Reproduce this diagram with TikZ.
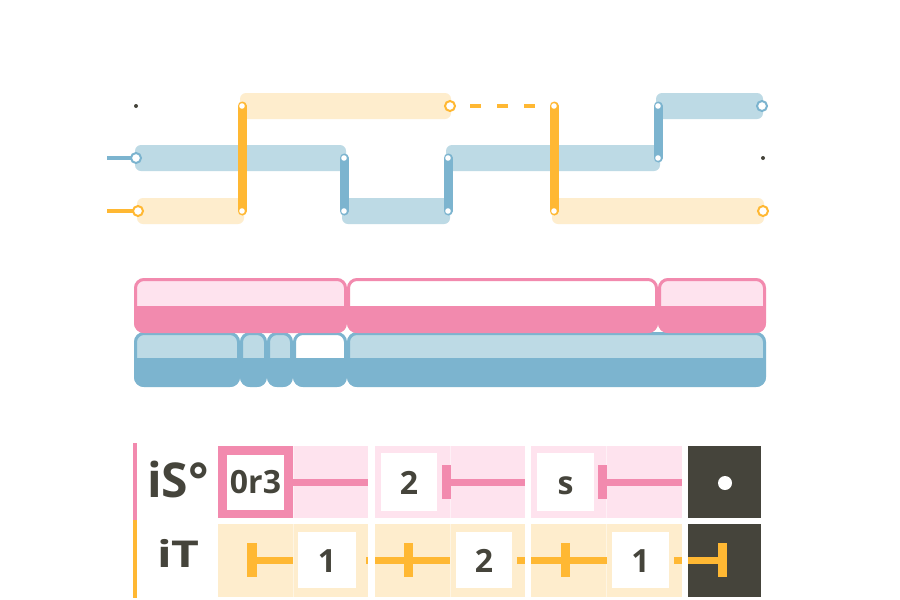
\documentclass[tikz,border=0pt]{standalone}
\usepackage{fontspec}
\setmainfont{Open Sans}
\definecolor{orng}{HTML}{FFB833}
\definecolor{lorng}{HTML}{FEEDCD}
\definecolor{blu}{HTML}{7CB4CF}
\definecolor{lblu}{HTML}{BDDAE5}
\definecolor{pnk}{HTML}{F28AAE}
\definecolor{lpnk}{HTML}{FEE3EE}
\definecolor{drk}{HTML}{45443B}
\newcommand{\rbseg}[7]{%
  \begin{scope}
    \clip[rounded corners=10] (#1,#2) rectangle (#3,#4);
    \fill[#6] (#1,#2) rectangle (#3,#5);
    \fill[#7] (#1,#5) rectangle (#3,#4);
  \end{scope}
  \draw[#7, line width=3, rounded corners=8.5] (#1+1.5,#2+1.5) rectangle (#3-1.5,#4-1.5);
}
\tikzset{
  band/.style={rounded corners=6},
  bar/.style={line width=9, line cap=round},
  wire/.style={line width=4.5},
  opencirc/.style={line width=2, fill=white},
  lab/.style={anchor=base, text=drk, font=\bfseries, inner sep=0},
  cell/.style={anchor=base, text=drk, font=\fontsize{32}{36}\selectfont\bfseries, inner sep=0},
  sep/.style={line width=0.8},
}
\begin{document}
\begin{tikzpicture}[x=1pt,y=-1pt]
\useasboundingbox (0,0) rectangle (900,600);
\fill[white] (0,0) rectangle (900,600);

% ---------- top section ----------
% bands
\fill[lorng, band] (137,198) rectangle (244,224);
\fill[lorng, band] (240,93) rectangle (451,119);
\fill[lorng, band] (552,198) rectangle (764,224);
\fill[lblu, band] (135,145) rectangle (346,171);
\fill[lblu, band] (342,198) rectangle (450,224);
\fill[lblu, band] (446,145) rectangle (660,171);
\fill[lblu, band] (656,93) rectangle (763,119);

% input wires
\coordinate (bin) at (107,158);
\coordinate (oin) at (107,211);
\coordinate (b0) at (136,158);
\coordinate (o0) at (138,211);
\draw[blu, wire] (bin) -- (b0);
\draw[orng, wire] (oin) -- (o0);

% dashed
\coordinate (d0) at (470,106);
\coordinate (d1) at (535,106);
\draw[orng, wire, dash pattern=on 11pt off 16pt] (d0) -- (d1);

% bars
\coordinate (oa1) at (242,106); \coordinate (oa2) at (242,211);
\coordinate (ob1) at (554,106); \coordinate (ob2) at (554,211);
\coordinate (ba1) at (344,158); \coordinate (ba2) at (344,211);
\coordinate (bb1) at (448,158); \coordinate (bb2) at (448,211);
\coordinate (bc1) at (658,106); \coordinate (bc2) at (658,158);
\draw[blu, bar] (ba1) -- (ba2);
\draw[blu, bar] (bb1) -- (bb2);
\draw[blu, bar] (bc1) -- (bc2);
\draw[orng, bar] (oa1) -- (oa2);
\draw[orng, bar] (ob1) -- (ob2);
\foreach \p in {oa1,oa2,ob1,ob2,ba1,ba2,bb1,bb2,bc1,bc2}
  \fill[white] (\p) circle (2.8);

% open circles
\draw[blu, opencirc] (b0) circle (5);
\draw[orng, opencirc] (o0) circle (5);
\draw[orng, opencirc] (450,106) circle (5);
\draw[blu, opencirc] (762,106) circle (5);
\draw[orng, opencirc] (763,211) circle (5);

% dots
\fill[drk] (136,106) circle (2);
\fill[drk] (763,158) circle (2);

% ---------- middle section ----------
\rbseg{134}{332}{240}{387}{358}{lblu}{blu}
\rbseg{240}{332}{267}{387}{358}{lblu}{blu}
\rbseg{267}{332}{293}{387}{358}{lblu}{blu}
\rbseg{293}{332}{347}{387}{358}{white}{blu}
\rbseg{347}{332}{766}{387}{358}{lblu}{blu}

\rbseg{134}{278}{347}{333}{306}{lpnk}{pnk}
\rbseg{347}{278}{658}{333}{306}{white}{pnk}
\rbseg{658}{278}{766}{333}{306}{lpnk}{pnk}

% ---------- bottom section ----------
\draw[pnk, line width=4] (135,443) -- (135,520);
\draw[orng, line width=4] (135,520) -- (135,598);
\node[lab, font=\fontsize{48}{50}\selectfont\bfseries] (lS) at (178,497) {iS°};
\node[lab, font=\fontsize{37}{40}\selectfont\bfseries, xscale=1.3] (lT) at (178.5,567) {iT};

% cells backgrounds
\foreach \a/\b in {218/368, 375/525, 531/682}{
  \fill[lpnk] (\a,446) rectangle (\b,518);
  \fill[lorng] (\a,524) rectangle (\b,597);
  \draw[sep, white!45!lpnk] ({(\a+\b)/2},446) -- ({(\a+\b)/2},518);
  \draw[sep, white!45!lorng] ({(\a+\b)/2},524) -- ({(\a+\b)/2},597);
}
\fill[drk] (688,446) rectangle (761,518);
\fill[drk] (688,524) rectangle (761,597);
\fill[white] (725,483) circle (7);

% pink row
\fill[pnk] (218,446) rectangle (293,518);
\fill[white] (227,455) rectangle (284,510);
\node[cell] (c1) at (255.5,493) {0r3};
\draw[pnk, line width=7] (293,482) -- (368,482);

\fill[white] (381,453) rectangle (437,511);
\node[cell] (c2) at (409,494) {2};
\fill[pnk] (442,465) rectangle (451,499);
\draw[pnk, line width=7] (451,482) -- (525,482);

\fill[white] (537,453) rectangle (594,511);
\node[cell] (c3) at (565.5,494) {s};
\fill[pnk] (598,465) rectangle (607,499);
\draw[pnk, line width=7] (607,482) -- (682,482);

% orange row
\fill[orng] (247,543) rectangle (257,577);
\draw[orng, line width=7] (257,560) -- (293,560);
\fill[white] (298,532) rectangle (356,588);
\node[cell] (d1n) at (327,572) {1};
\draw[orng, line width=7] (366,560) -- (368,560);

\draw[orng, line width=7] (375,560) -- (450,560);
\fill[orng] (404,543) rectangle (413,577);
\fill[white] (456,532) rectangle (512,588);
\node[cell] (d2n) at (484,572) {2};
\draw[orng, line width=7] (517,560) -- (525,560);

\draw[orng, line width=7] (531,560) -- (607,560);
\fill[orng] (561,543) rectangle (570,577);
\fill[white] (612,532) rectangle (669,588);
\node[cell] (d3n) at (640.5,572) {1};
\draw[orng, line width=7] (674,560) -- (682,560);

\draw[orng, line width=7] (688,560) -- (727,560);
\fill[orng] (718,543) rectangle (727,577);
\end{tikzpicture}
\end{document}
